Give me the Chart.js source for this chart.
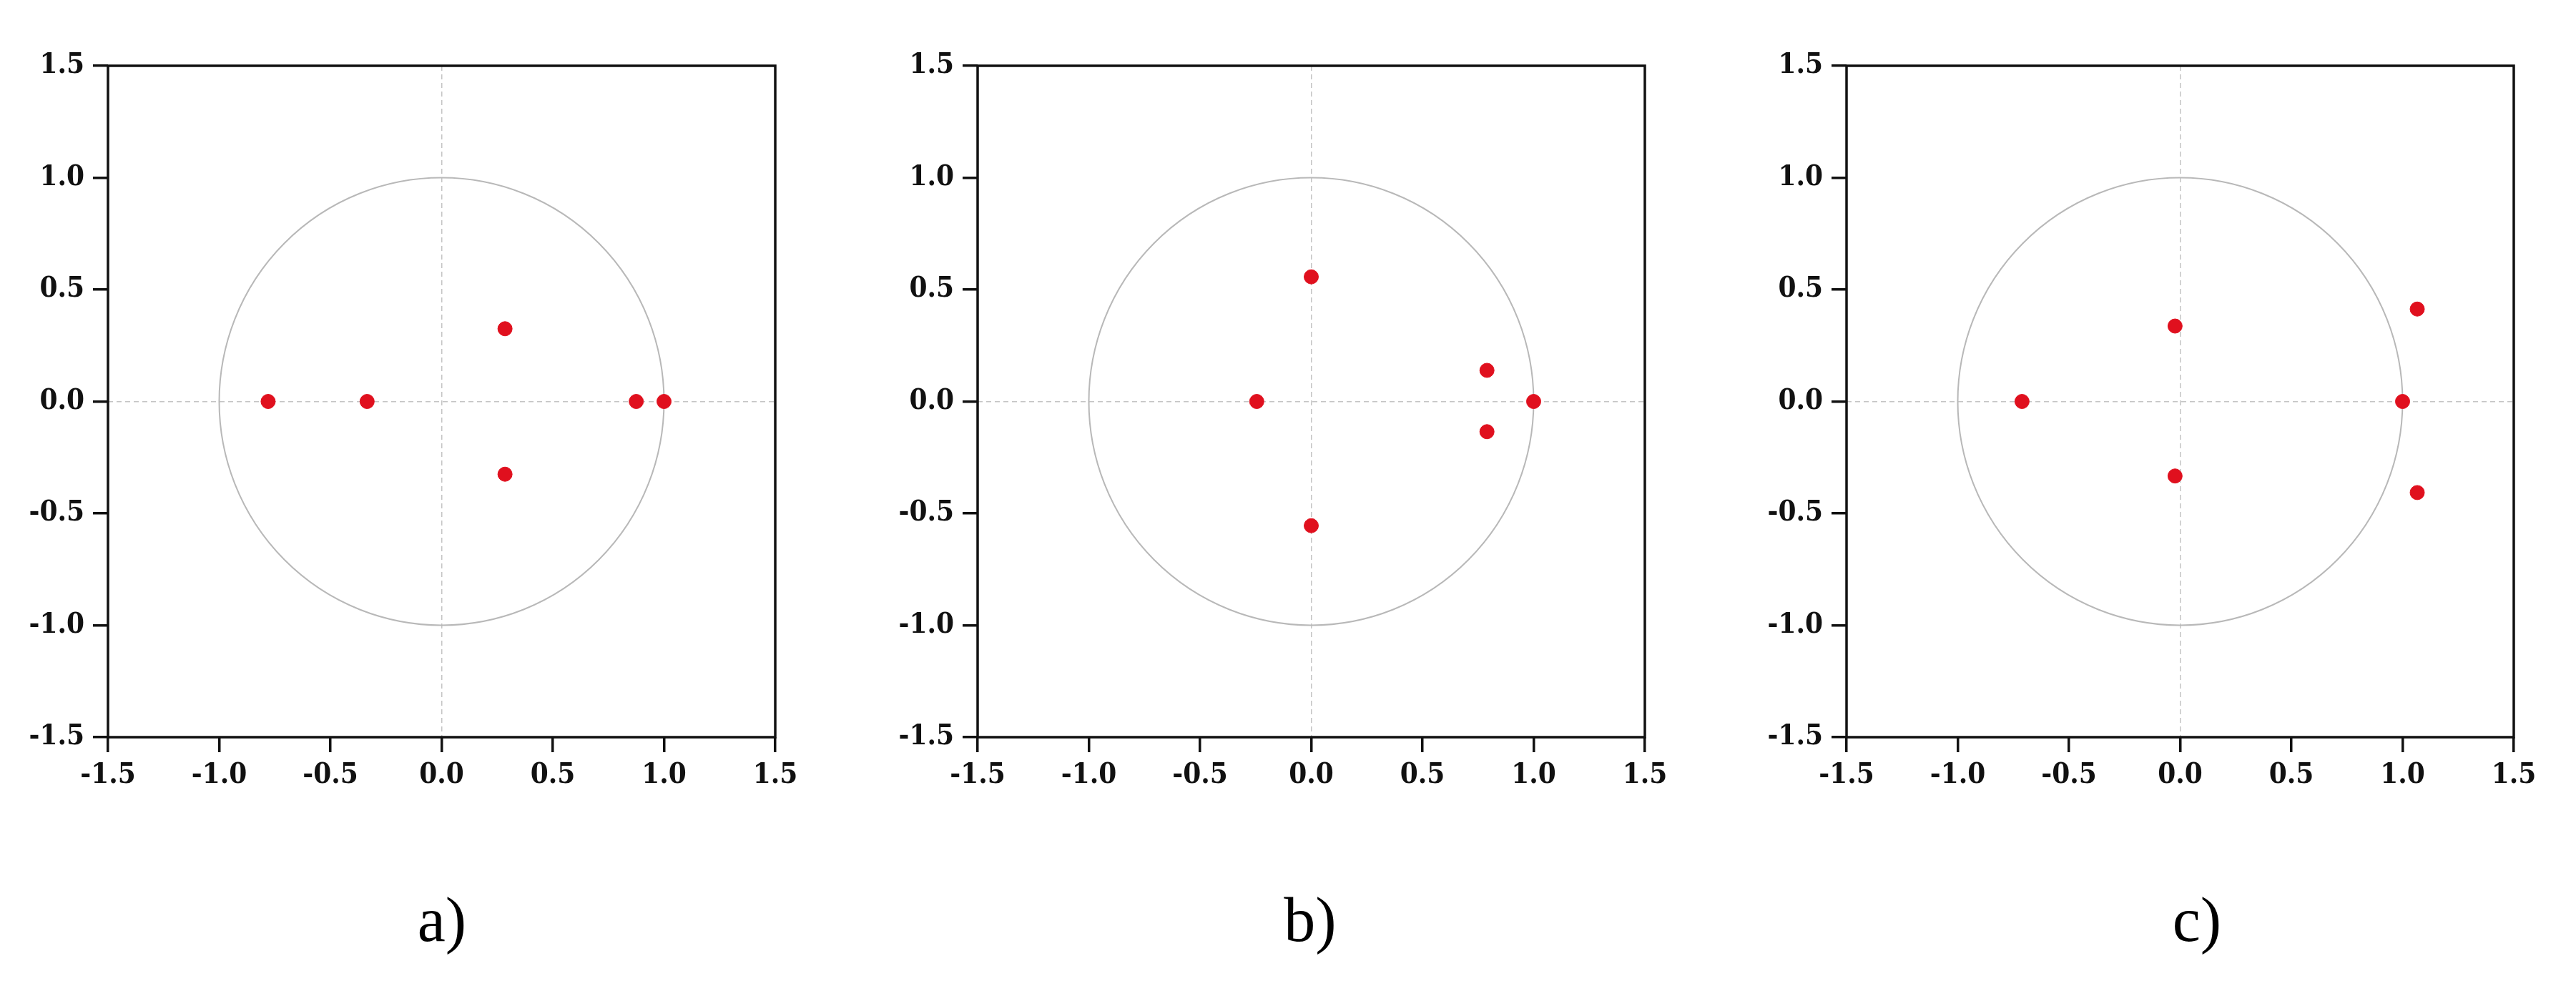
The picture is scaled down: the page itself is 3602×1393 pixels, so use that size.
<!DOCTYPE html>
<html>
<head>
<meta charset="utf-8">
<script src="https://cdn.jsdelivr.net/npm/chart.js@4.4.1/dist/chart.umd.min.js"></script>
<style>
    body { margin: 0; width: 3602px; height: 1393px; background: #fff; position: relative; overflow: hidden; }
    .panel { position: absolute; top: 40px; width: 1144px; height: 1101px; }
    .caption { position: absolute; top: 1236px; font-family: 'Liberation Serif', 'Times New Roman', serif; font-size: 88px; color: #000; transform: translateX(-50%); }
</style>
</head>
<body>
<div class="panel" style="left:0px"><canvas id="chartA"></canvas></div>
<div class="panel" style="left:1216px"><canvas id="chartB"></canvas></div>
<div class="panel" style="left:2431px"><canvas id="chartC"></canvas></div>
<div class="caption" style="left:618px">a)</div>
<div class="caption" style="left:1832px">b)</div>
<div class="caption" style="left:3072px">c)</div>
<script>
// tick labels shared by both axes
const tickValues = [-1.5, -1.0, -0.5, 0.0, 0.5, 1.0, 1.5];
const unitRadius = 1;

const rootsA_re = [-0.78, -0.335, 0.285, 0.285, 0.875, 1.0];
const rootsA_im = [0, 0, 0.325, -0.325, 0, 0];

const rootsB_re = [-0.245, 0.0, 0.0, 0.79, 0.79, 1.0];
const rootsB_im = [0, 0.557, -0.555, 0.139, -0.135, 0];

const rootsC_re = [-0.711, -0.023, -0.023, 1.0, 1.066, 1.066];
const rootsC_im = [0, 0.337, -0.333, 0, 0.413, -0.407];

const tickFont = { family: "'DejaVu Serif Condensed', 'DejaVu Serif', serif", size: 40, weight: 'bold' };

// unit circle + frame, placed through the scales
const circlePlugin = {
    id: 'unitCircle',
    beforeDatasetsDraw(chart) {
        const { ctx, scales: { x, y } } = chart;
        const cx = x.getPixelForValue(0), cy = y.getPixelForValue(0);
        const rx = x.getPixelForValue(unitRadius) - cx;
        const ry = cy - y.getPixelForValue(unitRadius);
        ctx.save();
        ctx.strokeStyle = '#b8b8b8';
        ctx.lineWidth = 2;
        ctx.beginPath();
        ctx.ellipse(cx, cy, rx, ry, 0, 0, Math.PI * 2);
        ctx.stroke();
        ctx.restore();
    },
    afterDraw(chart) {
        const { ctx, chartArea } = chart;
        ctx.save();
        ctx.strokeStyle = '#111';
        ctx.lineWidth = 3.5;
        ctx.strokeRect(chartArea.left, chartArea.top, chartArea.right - chartArea.left, chartArea.bottom - chartArea.top);
        ctx.restore();
    }
};

function axisOptions(isY) {
    return {
        type: 'linear',
        min: -1.5,
        max: 1.5,
        afterBuildTicks: scale => { scale.ticks = tickValues.map(v => ({ value: v })); },
        afterFit: scale => {
            if (isY) scale.width = 151; else scale.height = 110;
        },
        grid: {
            color: c => (c.tick && c.tick.value === 0) ? '#c4c4c4' : 'rgba(0,0,0,0)',
            lineWidth: 1.5,
            tickLength: 21,
            tickWidth: 3.5,
            tickColor: '#111'
        },
        border: { display: false, dash: [7, 5] },
        ticks: {
            color: '#111',
            font: tickFont,
            padding: isY ? 12 : 9,
            callback: v => Number(v).toFixed(1)
        }
    };
}

function drawRoots(canvasId, re, im) {
    const points = re.map((v, i) => ({ x: v, y: im[i] }));
    new Chart(document.getElementById(canvasId), {
        type: 'scatter',
        data: {
            datasets: [{
                data: points,
                backgroundColor: '#e0101e',
                borderColor: '#e0101e',
                pointRadius: 10,
                pointHoverRadius: 10
            }]
        },
        options: {
            responsive: true,
            maintainAspectRatio: false,
            animation: false,
            layout: { padding: { top: 52, right: 60, left: 0, bottom: 0 } },
            plugins: {
                legend: { display: false },
                tooltip: { enabled: false }
            },
            scales: {
                x: axisOptions(false),
                y: axisOptions(true)
            }
        },
        plugins: [circlePlugin]
    });
}

drawRoots('chartA', rootsA_re, rootsA_im);
drawRoots('chartB', rootsB_re, rootsB_im);
drawRoots('chartC', rootsC_re, rootsC_im);
</script>
</body>
</html>
